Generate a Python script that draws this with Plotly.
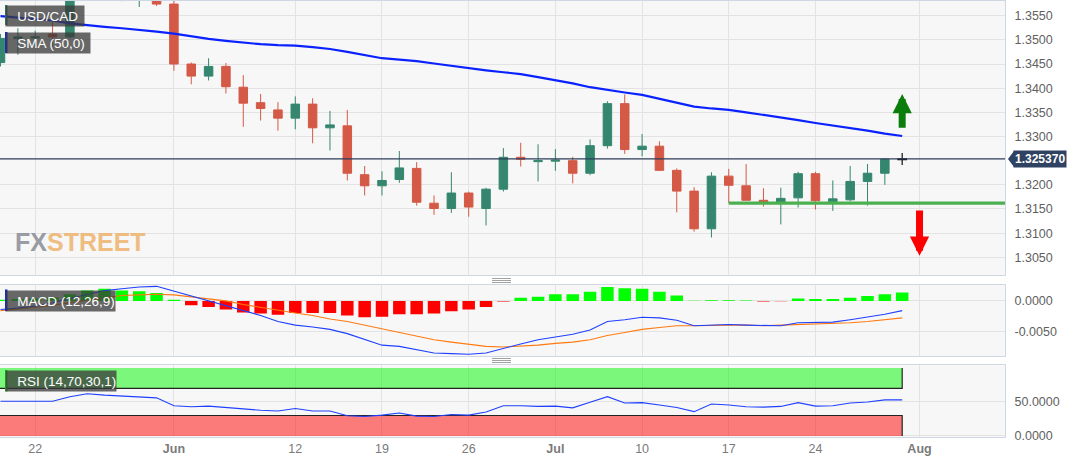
import plotly.graph_objects as go
import pandas as pd

# ---------------- data ----------------
DATES = pd.bdate_range("2023-05-18", "2023-08-01")  # trading days (Aug 1 only used for tick)
OPEN = [1.3453, 1.3503, 1.3504, 1.3512, 1.3506, 1.3598, 1.3620, 1.3600, 1.3592, 1.3610,
        1.3574, 1.3450, 1.3425, 1.3445, 1.3402, 1.3370, 1.3355, 1.3338, 1.3367, 1.3318,
        1.3322, 1.3221, 1.3198, 1.3211, 1.3234, 1.3162, 1.3151, 1.3183, 1.3151, 1.3191,
        1.3257, 1.3248, 1.3249, 1.3250, 1.3224, 1.3281, 1.3368, 1.3273, 1.3280, 1.3230,
        1.3187, 1.3109, 1.3218, 1.3198, 1.3168, 1.3164, 1.3173, 1.3223, 1.3165, 1.3169,
        1.3207, 1.3224, 1.3252]
HIGH = [1.3512, 1.3524, 1.3519, 1.3543, 1.3612, 1.3650, 1.3640, 1.3630, 1.3640, 1.3655,
        1.3600, 1.3453, 1.3462, 1.3452, 1.3427, 1.3388, 1.3371, 1.3383, 1.3379, 1.3353,
        1.3355, 1.3239, 1.3228, 1.3270, 1.3247, 1.3178, 1.3226, 1.3186, 1.3194, 1.3276,
        1.3287, 1.3284, 1.3274, 1.3258, 1.3294, 1.3373, 1.3387, 1.3305, 1.3290, 1.3234,
        1.3195, 1.3226, 1.3233, 1.3243, 1.3193, 1.3194, 1.3227, 1.3227, 1.3209, 1.3239,
        1.3243, 1.3255, 1.3266]
LOW = [1.3445, 1.3469, 1.3486, 1.3486, 1.3503, 1.3590, 1.3592, 1.3580, 1.3568, 1.3570,
       1.3436, 1.3408, 1.3416, 1.3389, 1.3320, 1.3333, 1.3312, 1.3315, 1.3286, 1.3271,
       1.3209, 1.3178, 1.3178, 1.3204, 1.3157, 1.3138, 1.3142, 1.3134, 1.3116, 1.3186,
       1.3238, 1.3207, 1.3229, 1.3203, 1.3220, 1.3275, 1.3264, 1.3259, 1.3229, 1.3143,
       1.3103, 1.3091, 1.3162, 1.3168, 1.3155, 1.3118, 1.3153, 1.3149, 1.3146, 1.3166,
       1.3157, 1.3200, 1.3241]
CLOSE = [1.3503, 1.3506, 1.3506, 1.3506, 1.3598, 1.3620, 1.3600, 1.3592, 1.3610, 1.3574,
         1.3450, 1.3425, 1.3445, 1.3403, 1.3369, 1.3358, 1.3338, 1.3367, 1.3318, 1.3324,
         1.3224, 1.3198, 1.3209, 1.3235, 1.3164, 1.3151, 1.3183, 1.3154, 1.3191, 1.3257,
         1.3253, 1.3250, 1.3251, 1.3224, 1.3281, 1.3368, 1.3273, 1.3280, 1.3230, 1.3187,
         1.3109, 1.3218, 1.3199, 1.3168, 1.3164, 1.3172, 1.3223, 1.3167, 1.3171, 1.3207,
         1.3224, 1.3253, 1.32537]
SMA50 = [1.3549, 1.3546, 1.3543, 1.3540, 1.3534, 1.3530, 1.3527, 1.3524, 1.3521, 1.3517,
         1.3513, 1.3507, 1.3502, 1.3498, 1.3494, 1.3491, 1.3489, 1.3488, 1.3485, 1.3481,
         1.3475, 1.3468, 1.3462, 1.3459, 1.3456, 1.3451, 1.3446, 1.3441, 1.3437, 1.3433,
         1.3429, 1.3423, 1.3417, 1.3410, 1.3402, 1.3396, 1.3391, 1.3386, 1.3378, 1.3369,
         1.3362, 1.3358, 1.3355, 1.3350, 1.3345, 1.3340, 1.3334, 1.3328, 1.3323, 1.3317,
         1.3312, 1.3306, 1.3301]
MACD_LINE = [-0.00142, -0.0012, -0.00085, -0.0003, 0.0004, 0.0010, 0.0017, 0.0020, 0.0023, 0.0024,
             0.0016, 0.0007, 0.0000, -0.00085, -0.0016, -0.0024, -0.0034, -0.0040, -0.0043, -0.0047,
             -0.0054, -0.0064, -0.0073, -0.0075, -0.0080, -0.0086, -0.0087, -0.0088, -0.0086, -0.0078,
             -0.0071, -0.0064, -0.0060, -0.0055, -0.0048, -0.0034, -0.0031, -0.0027, -0.0028, -0.0032,
             -0.0041, -0.0040, -0.0039, -0.0040, -0.0041, -0.0041, -0.0036, -0.0036, -0.0035, -0.0031,
             -0.0027, -0.0022, -0.0016]
MACD_SIGNAL = [-0.0016, -0.0014, -0.0011, -0.0007, -0.0003, 0.0002, 0.0006, 0.0009, 0.0010, 0.0011,
               0.0010, 0.0007, 0.0004, 0.0000, -0.0006, -0.0011, -0.0016, -0.0020, -0.0024, -0.0030,
               -0.0034, -0.0040, -0.0047, -0.0052, -0.0058, -0.0064, -0.0068, -0.0072, -0.0075, -0.0076,
               -0.0075, -0.0073, -0.0070, -0.0068, -0.0064, -0.0057, -0.0052, -0.0047, -0.0044, -0.0041,
               -0.0041, -0.0040, -0.0040, -0.0040, -0.0041, -0.0040, -0.0039, -0.0039, -0.0037, -0.0036,
               -0.0034, -0.0031, -0.0028]
MACD_HIST = [0.0002, 0.0003, 0.0004, 0.0006, 0.0011, 0.0017, 0.0020, 0.0017, 0.0016, 0.0013,
             0.0002, -0.0007, -0.0010, -0.0014, -0.0019, -0.0021, -0.0023, -0.0020, -0.0020, -0.0020,
             -0.0024, -0.0027, -0.0026, -0.0022, -0.0022, -0.0021, -0.0017, -0.0014, -0.0010, -0.0001,
             0.0005, 0.0007, 0.0011, 0.0011, 0.0015, 0.0023, 0.0021, 0.0020, 0.0015, 0.0009,
             0.00002, 0.0001, 0.0001, 0.00005, -0.0001, -0.00005, 0.0004, 0.0003, 0.0003, 0.0005,
             0.0008, 0.0011, 0.0014]
RSI = [51, 51, 51, 51, 57.7, 62, 60, 58.7, 57.7, 56,
       44.4, 42.9, 43.9, 41.8, 38.8, 37.8, 36.7, 40.3, 36.7, 36.7,
       29.6, 28.6, 30.6, 33.7, 29.1, 28.6, 31.6, 30.6, 35.2, 44.4,
       44.4, 43.4, 43.9, 41.3, 49.5, 57.7, 48.5, 49, 45.4, 41.8,
       35.7, 46.9, 45.4, 42.9, 42.3, 43.4, 49, 43.9, 44.4, 48.5,
       50, 53, 53]
LAST_PRICE = 1.325370
SUPPORT = 1.3162
SUPPORT_FROM = "2023-07-17"
UP_ARROW = (1.3315, 1.3388)      # tail, tip
DOWN_ARROW = (1.3150, 1.3053)    # tail, tip
RSI_OB, RSI_OS, RSI_MAX, RSI_MIN = 70, 30, 100, 0
TICK_DATES = ["2023-05-22", "2023-06-01", "2023-06-12", "2023-06-19", "2023-06-26",
              "2023-07-03", "2023-07-10", "2023-07-17", "2023-07-24", "2023-08-01"]
TICK_TEXT = ["22", "<b>Jun</b>", "12", "19", "26", "<b>Jul</b>", "10", "17", "24", "<b>Aug</b>"]
PRICE_TICKS = [1.3050, 1.3100, 1.3150, 1.3200, 1.3300, 1.3350, 1.3400, 1.3450, 1.3500, 1.3550]
MACD_TICKS = [0.0, -0.005]
RSI_TICKS = [50, 0]

# ---------------- positions ----------------
OFFSET = 2  # first trading day shown before the May 22 tick
N = len(CLOSE)
pos = [i - OFFSET for i in range(N)]
def date_pos(d):
    return DATES.get_loc(pd.Timestamp(d)) - OFFSET
tick_pos = [date_pos(d) for d in TICK_DATES]
last = pos[-1]

GREEN = "#35866f"
RED = "#d45946"
GRID = "#e3e3e3"
BORDER = "#cfd6e4"
PLOT_BG = "#f7f7f7"
TXT = "#5f5f5f"
FONT = "Liberation Sans, Arial, sans-serif"

fig = go.Figure()

# main candles (all but the live one)
fig.add_trace(go.Candlestick(
    x=pos[:-1], open=OPEN[:-1], high=HIGH[:-1], low=LOW[:-1], close=CLOSE[:-1],
    increasing=dict(line=dict(color=GREEN, width=1), fillcolor=GREEN),
    decreasing=dict(line=dict(color=RED, width=1), fillcolor=RED),
    xaxis="x", yaxis="y", showlegend=False, hoverinfo="skip"))
# live candle
fig.add_trace(go.Candlestick(
    x=pos[-1:], open=OPEN[-1:], high=HIGH[-1:], low=LOW[-1:], close=CLOSE[-1:],
    increasing=dict(line=dict(color="#111111", width=1.2), fillcolor="#cccccc"),
    decreasing=dict(line=dict(color="#111111", width=1.2), fillcolor="#cccccc"),
    xaxis="x", yaxis="y", showlegend=False, hoverinfo="skip"))
# SMA
fig.add_trace(go.Scatter(x=pos, y=SMA50, mode="lines", line=dict(color="#0a22ff", width=2.2),
                         xaxis="x", yaxis="y", showlegend=False, hoverinfo="skip"))
# support line
fig.add_trace(go.Scatter(x=[date_pos(SUPPORT_FROM), last + 10], y=[SUPPORT, SUPPORT], mode="lines",
                         line=dict(color="#4cb050", width=3.2),
                         xaxis="x", yaxis="y", showlegend=False, hoverinfo="skip"))

# MACD
hist_colors = ["#00ff00" if v >= 0 else "#ff0000" for v in MACD_HIST]
fig.add_trace(go.Bar(x=pos, y=MACD_HIST, marker=dict(color=hist_colors, line=dict(width=0)),
                     width=0.72, xaxis="x2", yaxis="y2", showlegend=False, hoverinfo="skip"))
fig.add_trace(go.Scatter(x=pos, y=MACD_SIGNAL, mode="lines", line=dict(color="#ff7a10", width=1.1),
                         xaxis="x2", yaxis="y2", showlegend=False, hoverinfo="skip"))
fig.add_trace(go.Scatter(x=pos, y=MACD_LINE, mode="lines", line=dict(color="#2040ff", width=1.1),
                         xaxis="x2", yaxis="y2", showlegend=False, hoverinfo="skip"))

# RSI bands
x0 = pos[0] - 1
fig.add_trace(go.Scatter(x=[x0, last, last, x0, x0], y=[RSI_MAX, RSI_MAX, RSI_OB, RSI_OB, RSI_MAX],
                         fill="toself", fillcolor="rgba(0,250,0,0.5)", line=dict(width=0),
                         mode="lines", xaxis="x3", yaxis="y3", showlegend=False, hoverinfo="skip"))
fig.add_trace(go.Scatter(x=[x0, last, last], y=[RSI_OB, RSI_OB, RSI_MAX], mode="lines",
                         line=dict(color="#222222", width=1.2),
                         xaxis="x3", yaxis="y3", showlegend=False, hoverinfo="skip"))
fig.add_trace(go.Scatter(x=[x0, last, last, x0, x0], y=[RSI_OS, RSI_OS, RSI_MIN, RSI_MIN, RSI_OS],
                         fill="toself", fillcolor="rgba(255,0,0,0.5)", line=dict(width=0),
                         mode="lines", xaxis="x3", yaxis="y3", showlegend=False, hoverinfo="skip"))
fig.add_trace(go.Scatter(x=[x0, last, last], y=[RSI_OS, RSI_OS, RSI_MIN], mode="lines",
                         line=dict(color="#222222", width=1.2),
                         xaxis="x3", yaxis="y3", showlegend=False, hoverinfo="skip"))
fig.add_trace(go.Scatter(x=pos, y=RSI, mode="lines", line=dict(color="#2040ff", width=1.1),
                         xaxis="x3", yaxis="y3", showlegend=False, hoverinfo="skip"))

# ---------------- layout ----------------
H_PLOT = 436.0
def py(px):
    return (437.0 - px) / H_PLOT
W_PLOT = 1005.0
def pxx(px):
    return px / W_PLOT

xr = [-2.03, 55.93]
xcommon = dict(range=xr, showgrid=True, gridcolor=GRID, gridwidth=1, zeroline=False,
               tickvals=tick_pos, ticktext=TICK_TEXT, showline=True, linecolor=BORDER,
               linewidth=1, mirror=True, ticks="", fixedrange=True)
ycommon = dict(side="right", showgrid=True, gridcolor=GRID, gridwidth=1, zeroline=False,
               showline=True, linecolor=BORDER, linewidth=1, mirror=True, ticks="",
               tickfont=dict(family=FONT, size=12.5, color=TXT),
               ticklabelstandoff=6, fixedrange=True)

fig.update_layout(
    width=1082, height=457,
    margin=dict(l=0, r=77, t=1, b=20),
    paper_bgcolor="white", plot_bgcolor=PLOT_BG,
    showlegend=False, bargap=0.28, hovermode=False,
    xaxis=dict(xcommon, domain=[0, 1], anchor="y", showticklabels=False,
               rangeslider=dict(visible=False)),
    xaxis2=dict(xcommon, domain=[0, 1], anchor="y2", matches="x", showticklabels=False),
    xaxis3=dict(xcommon, domain=[0, 1], anchor="y3", matches="x", showticklabels=True,
                tickfont=dict(family=FONT, size=12.5, color="#7a7a7a")),
    yaxis=dict(ycommon, domain=[py(275), py(1)], range=[1.30134, 1.35804],
               tickvals=PRICE_TICKS, ticktext=[f"{v:.4f}" for v in PRICE_TICKS]),
    yaxis2=dict(ycommon, domain=[py(356), py(284.7)], range=[-0.00909, 0.00267],
                tickvals=MACD_TICKS, ticktext=[f"{v:.4f}" for v in MACD_TICKS]),
    yaxis3=dict(ycommon, domain=[0, py(365.3)], range=[-1.6, 103.9],
                tickvals=RSI_TICKS, ticktext=[f"{v:.4f}" for v in RSI_TICKS]),
)

shapes = []
# last price line
shapes.append(dict(type="line", xref="paper", yref="y", x0=0, x1=1, y0=LAST_PRICE, y1=LAST_PRICE,
                   line=dict(color="#2c3d5a", width=1.2), layer="above"))
# last price pointer triangle
shapes.append(dict(type="path", xref="paper", yref="y", xsizemode="pixel", ysizemode="pixel",
                   xanchor=1, yanchor=LAST_PRICE, path="M 3 0 L 9 8 L 9 -8 Z",
                   fillcolor="#2f4262", line=dict(width=0)))
# legend colour stripes
for (ytop, ybot, w, col) in [(5, 25, 2.5, GREEN), (32, 53, 2.5, "#0a22ff"),
                             (289.5, 311, 2.5, "#0a22ff"), (370, 391.5, 2.5, "#20c020")]:
    shapes.append(dict(type="rect", xref="paper", yref="paper", x0=pxx(5), x1=pxx(5 + w),
                       y0=py(ybot), y1=py(ytop), fillcolor=col, line=dict(width=0), layer="above"))
# panel splitter handles
for ymid in (280.5, 360.5):
    for dy in (-2, 0, 2):
        shapes.append(dict(type="line", xref="paper", yref="paper", x0=pxx(492), x1=pxx(511),
                           y0=py(ymid + dy), y1=py(ymid + dy), line=dict(color="#8a8a8a", width=0.8)))
fig.update_layout(shapes=shapes)

annotations = []
# legend boxes
for (txt, ytop, w) in [("USD/CAD", 5, 78), ("SMA (50,0)", 32, 84),
                       ("MACD (12,26,9)", 289.5, 109), ("RSI (14,70,30,1)", 370, 110)]:
    annotations.append(dict(xref="paper", yref="paper", x=pxx(5), y=py(ytop), xanchor="left",
                            yanchor="top", text="&nbsp;&nbsp;&nbsp;" + txt, showarrow=False,
                            align="left", width=w, height=20, bgcolor="rgba(58,58,58,0.76)",
                            borderpad=0, font=dict(family=FONT, size=13.5, color="white")))
# last price label
annotations.append(dict(xref="paper", yref="y", x=1, y=LAST_PRICE, xanchor="left", yanchor="middle",
                        xshift=8, text=f"<b>{LAST_PRICE:.6f}</b>", showarrow=False,
                        bgcolor="#2f4262", borderpad=1,
                        font=dict(family=FONT, size=12, color="white")))
# watermark
annotations.append(dict(xref="paper", yref="paper", x=pxx(13), y=py(242), xanchor="left",
                        yanchor="middle", showarrow=False,
                        text="<b><span style='color:#8f939c'>FX</span>"
                             "<span style='color:#efb676'>STREET</span></b>",
                        font=dict(family="Liberation Sans Narrow, Liberation Sans, Arial, sans-serif",
                                  size=25), opacity=0.9))
# arrows
annotations.append(dict(xref="x", yref="y", axref="x", ayref="y", x=last, y=UP_ARROW[1],
                        ax=last, ay=UP_ARROW[0], text="", showarrow=True, arrowhead=2,
                        arrowsize=0.55, arrowwidth=7, arrowcolor="#0a7d0a", standoff=0))
annotations.append(dict(xref="x", yref="y", axref="x", ayref="y", x=last + 1, y=DOWN_ARROW[1],
                        ax=last + 1, ay=DOWN_ARROW[0], text="", showarrow=True, arrowhead=2,
                        arrowsize=0.55, arrowwidth=7, arrowcolor="#ff0000", standoff=0))
fig.update_layout(annotations=annotations)

fig.write_html("out.html", config={"displayModeBar": False, "staticPlot": True},
               post_script="document.body.style.margin='0';document.body.style.padding='0';")
